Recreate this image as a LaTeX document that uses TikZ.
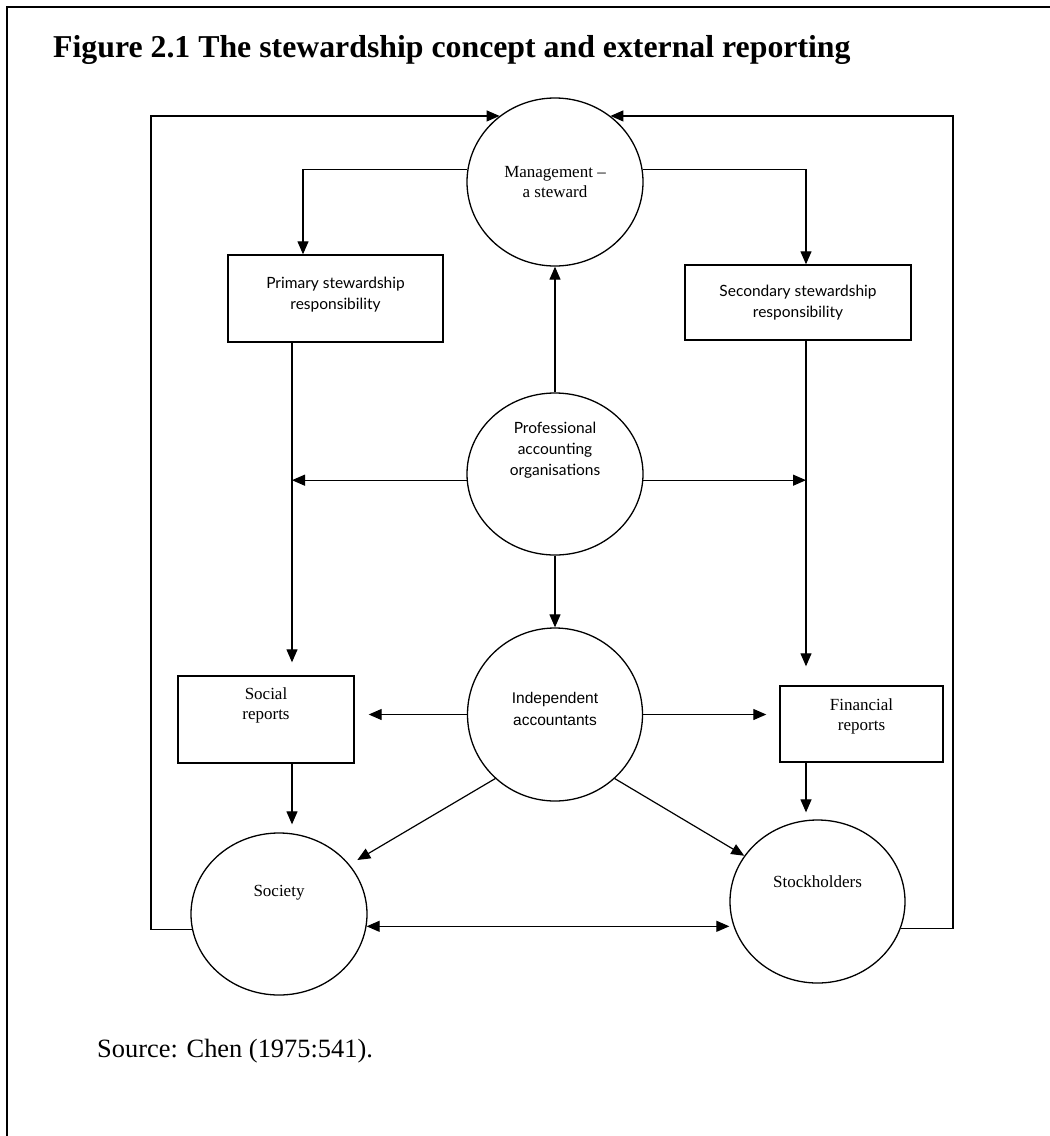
\documentclass[tikz,border=0pt]{standalone}
\usepackage{fontspec}
\setmainfont{Liberation Serif}
\newfontfamily\gillish{Lato}
\newfontfamily\arialish{Liberation Sans}
\usetikzlibrary{shapes.geometric,arrows.meta,calc}
\begin{document}
\begin{tikzpicture}[x=1pt,y=-1pt,
  conn/.style={line width=1.2pt},
  arr/.style={conn,-{Triangle[length=13pt,width=11pt]}},
  darr/.style={conn,{Triangle[length=13pt,width=11pt]}-{Triangle[length=13pt,width=11pt]}},
  oval/.style={ellipse,draw,line width=1.3pt,inner sep=0pt,align=center},
  rbox/.style={rectangle,draw,line width=1.4pt,inner sep=0pt,align=center},
  ser/.style={font=\fontsize{17}{20}\selectfont},
  gil/.style={font=\gillish\fontsize{15.5}{21}\selectfont},
  ari/.style={font=\arialish\fontsize{15.5}{22}\selectfont}
]
\useasboundingbox (0,0) rectangle (1050,1136);
\fill[white] (0,0) rectangle (1050,1136);
% frame
\draw[line width=2pt] (7,1136) -- (7,7) -- (1050,7);
% title
\node[anchor=base west,inner sep=0pt,font=\bfseries\fontsize{31.8}{36}\selectfont] (title) at (53,57) {Figure 2.1 The stewardship concept and external reporting};
\node[anchor=base west,inner sep=0pt,font=\fontsize{26.4}{30}\selectfont] (source) at (97,1057) {Source: Chen (1975:541).};

% ovals
\node[oval,ser,minimum width=176pt,minimum height=168pt] (mgmt) at (555,182) {Management --\\a steward};
\node[oval,minimum width=176pt,minimum height=162pt,label={[gil,yshift=24pt,align=center]center:{Professional\\accounting\\organisations}}] (prof) at (555,474) {};
\node[oval,minimum width=175pt,minimum height=173pt,label={[ari,yshift=6pt,align=center]center:{Independent\\accountants}}] (indep) at (555,714.5) {};
\node[oval,minimum width=176pt,minimum height=162pt,label={[ser,yshift=21pt]center:{Society}}] (soc) at (279,914) {};
\node[oval,minimum width=175pt,minimum height=163pt,label={[ser,yshift=20pt]center:{Stockholders}}] (stock) at (817.5,901.5) {};

% boxes
\node[rbox,minimum width=215pt,minimum height=87pt,label={[gil,yshift=4pt,align=center]center:{Primary stewardship\\responsibility}}] (prim) at (335.5,298.5) {};
\node[rbox,gil,minimum width=226pt,minimum height=75pt] (sec) at (798,302.5) {Secondary stewardship\\responsibility};
\node[rbox,minimum width=176pt,minimum height=87pt,label={[ser,yshift=14pt,align=center]center:{Social\\reports}}] (socr) at (266,719.5) {};
\node[rbox,minimum width=163pt,minimum height=76pt,label={[ser,yshift=8pt,align=center]center:{Financial\\reports}}] (fin) at (861.5,724) {};

% helper x positions
\coordinate (xl) at (151,0);
\coordinate (xr) at (953,0);
\coordinate (xp) at (303,0);
\coordinate (xq) at (292,0);
\coordinate (xs) at (806,0);

% outer loops
\coordinate (lb) at (soc.190 -| xl);
\coordinate (lt) at (mgmt.130 -| xl);
\draw[arr] (soc.190) -- (lb) -- (lt) -- (mgmt.130);
\coordinate (rb) at (stock.-18.5 -| xr);
\coordinate (rt) at (mgmt.50 -| xr);
\draw[arr] (stock.-18.5) -- (rb) -- (rt) -- (mgmt.50);

% management to responsibilities
\draw[arr] (mgmt.172) -| (prim.north -| xp);
\draw[arr] (mgmt.8) -| (sec.north -| xs);

% professional
\draw[arr] (prof.north) -- (mgmt.south);
\draw[arr] (prof.south) -- (indep.north);
\draw[arr] (prof.184) -- (prof.184 -| xq);
\draw[arr] (prof.-4) -- (prof.-4 -| xs);

% verticals
\draw[arr,shorten >=13pt] (prim.south -| xq) -- (socr.north -| xq);
\draw[arr,shorten >=19pt] (sec.south -| xs) -- (fin.north -| xs);
\draw[arr,shorten >=8pt] (socr.south -| xq) -- (soc.north -| xq);
\draw[arr,shorten >=7pt] (fin.south -| xs) -- (stock.north -| xs);

% independent
\draw[arr,shorten >=14pt] (indep.180) -- (indep.180 -| socr.east);
\draw[arr,shorten >=13pt] (indep.0) -- (indep.0 -| fin.west);
\draw[arr,shorten >=9pt] (indep.227) -- (soc.35);
\draw[arr] (indep.313) -- (stock.148);

% society <-> stockholders
\draw[darr] (soc.-8.5) -- (soc.-8.5 -| stock.west);
\end{tikzpicture}
\end{document}
